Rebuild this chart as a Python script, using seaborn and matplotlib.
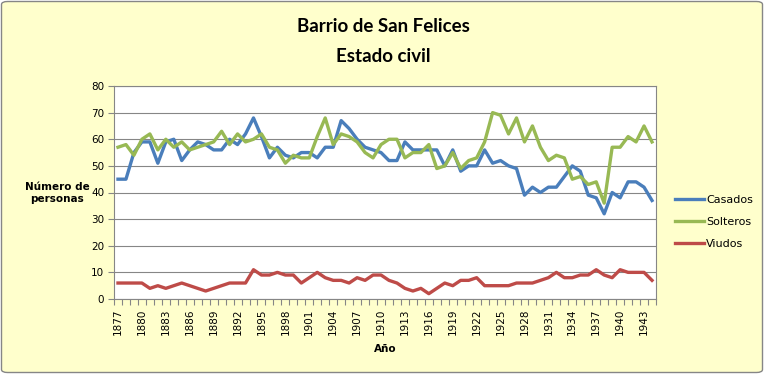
import numpy as np
import pandas as pd
import seaborn as sns
import matplotlib.pyplot as plt
from matplotlib.patches import FancyBboxPatch

# data, one value per year 1877-1944
years = list(range(1877, 1945))
casados = [45, 45, 55, 59, 59, 51, 59, 60, 52, 56, 59, 58, 56, 56, 60, 58, 62, 68, 61, 53,
           57, 54, 53, 55, 55, 53, 57, 57, 67, 64, 60, 57, 56, 55, 52, 52, 59, 56, 56, 56,
           56, 50, 56, 48, 50, 50, 56, 51, 52, 50, 49, 39, 42, 40, 42, 42, 46, 50, 48, 39,
           38, 32, 40, 38, 44, 44, 42, 37]
solteros = [57, 58, 54, 60, 62, 56, 60, 57, 59, 56, 57, 58, 59, 63, 58, 62, 59, 60, 62, 57,
            56, 51, 54, 53, 53, 61, 68, 58, 62, 61, 59, 55, 53, 58, 60, 60, 53, 55, 55, 58,
            49, 50, 55, 49, 52, 53, 59, 70, 69, 62, 68, 59, 65, 57, 52, 54, 53, 45, 46, 43,
            44, 36, 57, 57, 61, 59, 65, 59]
viudos = [6, 6, 6, 6, 4, 5, 4, 5, 6, 5, 4, 3, 4, 5, 6, 6, 6, 11, 9, 9,
          10, 9, 9, 6, 8, 10, 8, 7, 7, 6, 8, 7, 9, 9, 7, 6, 4, 3, 4, 2,
          4, 6, 5, 7, 7, 8, 5, 5, 5, 5, 6, 6, 6, 7, 8, 10, 8, 8, 9, 9,
          11, 9, 8, 11, 10, 10, 10, 7]
series = ["Casados", "Solteros", "Viudos"]
label_years = list(range(1877, 1944, 3))

df = pd.concat([
    pd.DataFrame({"year": years, "personas": vals, "serie": name})
    for name, vals in zip(series, [casados, solteros, viudos])
], ignore_index=True)

palette = {"Casados": "#4A7EBB", "Solteros": "#98B954", "Viudos": "#BE4B48"}
grey = "#868686"

W, H = 764, 374
fig = plt.figure(figsize=(W / 100, H / 100), dpi=100)
fig.patch.set_facecolor("white")
frame = FancyBboxPatch((1.5 / W, 1.5 / H), (W - 3) / W, (H - 3) / H,
                       boxstyle="round,pad=0,rounding_size=0.008",
                       transform=fig.transFigure, facecolor="#FFFFCC",
                       edgecolor=grey, linewidth=1, zorder=-10)
fig.patches.append(frame)

ax = fig.add_axes([114 / W, (H - 299) / H, 542 / W, 213 / H])
ax.set_facecolor("white")

sns.lineplot(data=df, x="year", y="personas", hue="serie", hue_order=series,
             palette=palette, linewidth=2.4, ax=ax, legend=True)

ax.set_xlim(1876.5, 1944.5)
ax.set_ylim(0, 80)
ax.set_yticks(range(0, 81, 10))
ax.yaxis.grid(True, color=grey, linewidth=0.8)
ax.set_axisbelow(True)

# tick marks between categories, labels every 3 years
ax.set_xticks(np.arange(1876.5, 1945, 1))
ax.set_xticklabels([])
ax.set_xticks(label_years, minor=True)
ax.set_xticklabels([str(y) for y in label_years], minor=True, rotation=90)
ax.tick_params(axis="x", which="major", length=4, color=grey, width=0.8)
ax.tick_params(axis="x", which="minor", length=0, pad=7, labelsize=7.5)
ax.tick_params(axis="y", length=4, color=grey, width=0.8, labelsize=7.5, pad=3)
for sp in ax.spines.values():
    sp.set_color(grey)
    sp.set_linewidth(0.8)
ax.set_xlabel("")
ax.set_ylabel("")

handles, labels = ax.get_legend_handles_labels()
ax.legend(handles, labels, loc="center left", bbox_to_anchor=(675 / W, 1 - 222 / H),
          bbox_transform=fig.transFigure, frameon=False, fontsize=8,
          handlelength=2.6, handletextpad=0.2, labelspacing=1.05,
          borderpad=0, borderaxespad=0)

fig.text(383 / W, 1 - 27 / H, "Barrio de San Felices", ha="center", va="center",
         fontsize=13.5, fontweight="bold", family="Lato")
fig.text(383 / W, 1 - 57 / H, "Estado civil", ha="center", va="center",
         fontsize=13.5, fontweight="bold", family="Lato")
fig.text(57 / W, 1 - 193 / H, "Número de\npersonas", ha="center", va="center",
         fontsize=7.5, fontweight="bold", linespacing=1.3)
fig.text(385 / W, 1 - 349 / H, "Año", ha="center", va="center",
         fontsize=7.5, fontweight="bold")

fig.savefig("out.png", dpi=100, facecolor=fig.get_facecolor())
